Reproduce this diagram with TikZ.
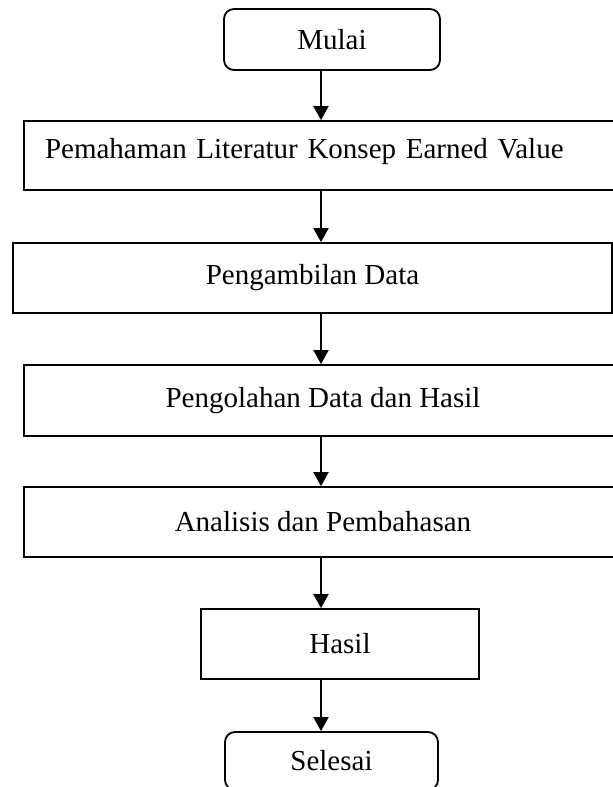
\documentclass[tikz,border=0pt]{standalone}
\usepackage{fontspec}
\setmainfont{Liberation Serif}
\usetikzlibrary{arrows.meta}
\begin{document}
\begin{tikzpicture}[x=1pt,y=-1pt,
  box/.style={draw, line width=1.8pt, inner sep=0pt, font=\fontsize{29}{34}\selectfont},
  term/.style={box, rounded corners=10pt},
  arr/.style={-{Triangle[length=14pt,width=15pt]}, line width=2pt}]
\useasboundingbox (0,0) rectangle (613,787);
\clip (0,0) rectangle (613,787);
\coordinate (ax) at (321,0);
\node[term, minimum width=216pt, minimum height=61pt] (mulai) at (332,39.5) {Mulai};
\node[box, minimum height=69pt, inner xsep=21pt, text width=554pt, align=left, text height=20pt, text depth=14pt] (lit) at (322,155.5) {Pemahaman Literatur Konsep Earned Value};
\node[box, minimum width=599pt, minimum height=70pt] (data) at (312.5,278) {Pengambilan Data};
\node[box, minimum width=598pt, minimum height=71pt] (olah) at (323,400.5) {Pengolahan Data dan Hasil};
\node[box, minimum width=598pt, minimum height=70pt] (anal) at (323,522) {Analisis dan Pembahasan};
\node[box, minimum width=278pt, minimum height=70pt] (hasil) at (340,644) {Hasil};
\node[term, minimum width=213pt, minimum height=58pt] (selesai) at (331.5,761) {Selesai};
\draw[arr] (mulai.south -| ax) -- (lit.north -| ax);
\draw[arr] (lit.south -| ax) -- (data.north -| ax);
\draw[arr] (data.south -| ax) -- (olah.north -| ax);
\draw[arr] (olah.south -| ax) -- (anal.north -| ax);
\draw[arr] (anal.south -| ax) -- (hasil.north -| ax);
\draw[arr] (hasil.south -| ax) -- (selesai.north -| ax);
\end{tikzpicture}
\end{document}
